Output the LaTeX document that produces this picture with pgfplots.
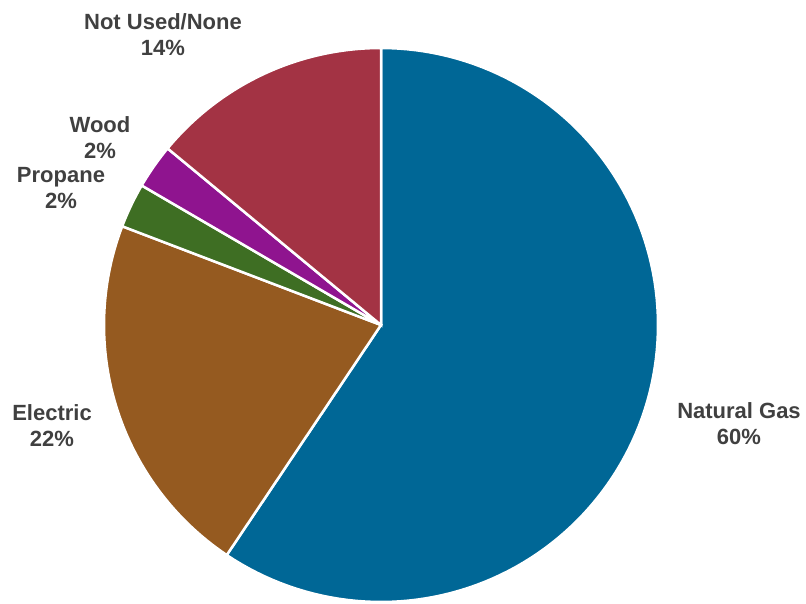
\documentclass[border=0pt]{standalone}
\usepackage{pgfplots}
\pgfplotsset{compat=1.18}
\usepackage{fontspec}
\setmainfont{Liberation Sans}
\definecolor{ngas}{RGB}{0,103,150}
\definecolor{elec}{RGB}{149,90,32}
\definecolor{prop}{RGB}{62,110,35}
\definecolor{wood}{RGB}{143,20,143}
\definecolor{notused}{RGB}{163,51,68}
\definecolor{lbl}{RGB}{64,64,64}
\tikzset{lab/.style={font=\bfseries\fontsize{22}{26}\selectfont, text=lbl, align=center, inner sep=1pt}}
\begin{document}
\begin{tikzpicture}
\begin{axis}[
  scale only axis, width=806pt, height=602pt,
  xmin=0, xmax=806, ymin=0, ymax=602,
  hide axis, clip=false,
]
% shares in percent, cumulative clockwise from 12 o'clock: 59.4, 21.4, 2.6, 2.6, 14.0
\addplot[fill=ngas, draw=white, line width=2.5pt, domain={90-3.6*59.4}:90, samples=120, variable=\t]
  ({381+277*cos(t)},{277+277*sin(t)}) -- (axis cs:381,277) -- cycle;
\addplot[fill=elec, draw=white, line width=2.5pt, domain={90-3.6*80.8}:{90-3.6*59.4}, samples=60, variable=\t]
  ({381+277*cos(t)},{277+277*sin(t)}) -- (axis cs:381,277) -- cycle;
\addplot[fill=prop, draw=white, line width=2.5pt, domain={90-3.6*83.4}:{90-3.6*80.8}, samples=20, variable=\t]
  ({381+277*cos(t)},{277+277*sin(t)}) -- (axis cs:381,277) -- cycle;
\addplot[fill=wood, draw=white, line width=2.5pt, domain={90-3.6*86.0}:{90-3.6*83.4}, samples=20, variable=\t]
  ({381+277*cos(t)},{277+277*sin(t)}) -- (axis cs:381,277) -- cycle;
\addplot[fill=notused, draw=white, line width=2.5pt, domain={90-3.6*100}:{90-3.6*86.0}, samples=50, variable=\t]
  ({381+277*cos(t)},{277+277*sin(t)}) -- (axis cs:381,277) -- cycle;
\node[lab] at (axis cs:163,567) {Not Used/None\\14\%};
\node[lab] at (axis cs:100,464) {Wood\\2\%};
\node[lab] at (axis cs:61,414) {Propane\\2\%};
\node[lab] at (axis cs:52,176) {Electric\\22\%};
\node[lab] at (axis cs:739,178) {Natural Gas\\60\%};
\path (rel axis cs:0,0) rectangle (rel axis cs:1,1);
\end{axis}
\end{tikzpicture}
\end{document}
